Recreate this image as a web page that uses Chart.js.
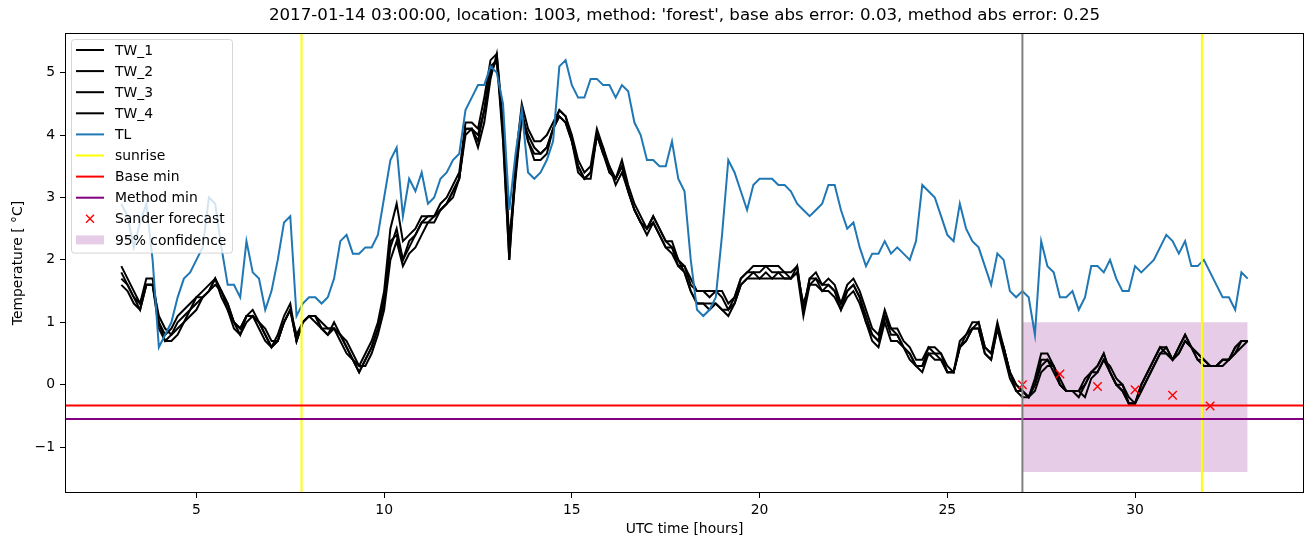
<!DOCTYPE html>
<html>
<head>
<meta charset="utf-8">
<script src="https://cdn.jsdelivr.net/npm/chart.js"></script>
<style>
  html, body { margin: 0; padding: 0; background: #fff; }
  canvas { display: block; }
</style>
</head>
<body>
<canvas id="chart" width="1313" height="547"></canvas>
<script>
// time axis: 10 minute samples from 03:00 to 33:00 UTC
var startHour = 3;
var stepHours = 1 / 6;

var tw1 = [
  1.9,1.7,1.5,1.3,1.7,1.7,1.0,0.8,0.9,1.1,
  1.2,1.3,1.4,1.5,1.6,1.7,1.5,1.3,1.0,0.8,
  1.1,1.2,1.0,0.8,0.6,0.8,1.1,1.3,0.7,1.0,
  1.1,1.1,0.9,0.8,1.0,0.8,0.6,0.4,0.3,0.5,
  0.7,1.0,1.5,2.5,2.9,2.3,2.4,2.5,2.7,2.7,
  2.7,2.9,3.0,3.2,3.4,4.2,4.2,4.1,4.6,5.2,
  5.3,4.0,2.0,3.6,4.5,4.1,3.9,3.9,4.0,4.2,
  4.4,4.3,4.0,3.6,3.4,3.5,4.1,3.8,3.5,3.3,
  3.6,3.2,2.9,2.7,2.5,2.7,2.5,2.3,2.3,2.0,
  1.9,1.7,1.5,1.5,1.5,1.5,1.4,1.2,1.4,1.7,
  1.8,1.9,1.9,1.9,1.9,1.9,1.8,1.8,1.9,1.2,
  1.7,1.8,1.6,1.7,1.6,1.3,1.6,1.7,1.5,1.2,
  0.9,0.8,1.2,0.9,0.9,0.7,0.6,0.4,0.4,0.6,
  0.6,0.5,0.3,0.2,0.7,0.8,1.0,1.0,0.6,0.5,
  1.0,0.6,0.2,0.0,-0.1,-0.2,0.1,0.5,0.5,0.3,
  0.0,-0.1,-0.1,-0.1,0.1,0.2,0.3,0.5,0.2,0.0,
  0.0,-0.3,-0.3,0.0,0.2,0.4,0.6,0.6,0.4,0.6,
  0.8,0.6,0.5,0.4,0.3,0.3,0.4,0.4,0.6,0.7,0.7
];
var tw2 = [
  1.8,1.6,1.4,1.2,1.6,1.6,0.9,0.7,0.8,1.0,
  1.1,1.2,1.4,1.4,1.5,1.7,1.4,1.2,0.9,0.8,
  1.0,1.1,0.9,0.7,0.6,0.7,1.0,1.2,0.7,1.0,
  1.1,1.0,0.9,0.8,0.9,0.7,0.5,0.4,0.2,0.4,
  0.6,0.9,1.3,2.3,2.4,2.0,2.2,2.4,2.6,2.6,
  2.7,2.8,2.9,3.1,3.3,4.1,4.1,3.9,4.4,5.0,
  5.2,3.9,2.0,3.4,4.4,3.9,3.7,3.7,3.8,4.1,
  4.3,4.2,3.9,3.5,3.3,3.4,4.0,3.7,3.4,3.3,
  3.5,3.1,2.8,2.6,2.4,2.6,2.4,2.2,2.1,1.9,
  1.8,1.5,1.3,1.3,1.2,1.3,1.2,1.1,1.3,1.6,
  1.7,1.8,1.7,1.8,1.7,1.8,1.7,1.7,1.8,1.1,
  1.6,1.7,1.5,1.6,1.5,1.2,1.5,1.6,1.4,1.0,
  0.8,0.7,1.1,0.8,0.8,0.6,0.5,0.3,0.3,0.5,
  0.5,0.4,0.2,0.2,0.6,0.8,0.9,0.9,0.5,0.4,
  0.9,0.5,0.1,-0.1,-0.2,-0.2,0.0,0.3,0.4,0.2,
  0.0,-0.1,-0.1,-0.1,0.0,0.2,0.2,0.4,0.2,0.0,
  -0.1,-0.3,-0.3,-0.1,0.1,0.3,0.5,0.6,0.4,0.5,
  0.7,0.6,0.4,0.3,0.3,0.3,0.4,0.4,0.5,0.7,0.7
];
var tw3 = [
  1.7,1.6,1.4,1.3,1.6,1.6,1.1,0.9,0.8,0.9,
  1.0,1.2,1.3,1.4,1.5,1.6,1.5,1.2,1.0,0.9,
  1.1,1.1,1.0,0.9,0.7,0.7,1.0,1.2,0.8,1.0,
  1.1,1.1,1.0,0.9,0.9,0.8,0.7,0.5,0.3,0.3,
  0.5,0.8,1.2,2.0,2.3,1.9,2.1,2.2,2.4,2.6,
  2.6,2.8,2.9,3.0,3.3,4.0,4.1,3.8,4.2,4.9,
  5.3,4.2,2.3,3.4,4.3,3.9,3.6,3.6,3.7,4.1,
  4.3,4.2,3.9,3.4,3.3,3.3,4.0,3.7,3.5,3.2,
  3.4,3.1,2.8,2.6,2.5,2.6,2.4,2.2,2.2,2.0,
  1.8,1.5,1.3,1.3,1.3,1.3,1.2,1.2,1.3,1.6,
  1.7,1.7,1.7,1.7,1.7,1.7,1.7,1.7,1.8,1.3,
  1.6,1.6,1.5,1.5,1.4,1.2,1.4,1.5,1.3,1.0,
  0.7,0.6,1.0,0.7,0.7,0.6,0.4,0.3,0.2,0.5,
  0.4,0.4,0.2,0.2,0.6,0.7,0.9,0.9,0.5,0.4,
  0.9,0.6,0.2,0.0,-0.1,-0.2,-0.1,0.2,0.3,0.3,
  0.1,-0.1,-0.1,-0.1,-0.2,0.1,0.2,0.4,0.3,0.1,
  0.0,-0.2,-0.3,-0.1,0.1,0.3,0.5,0.5,0.4,0.5,
  0.7,0.6,0.5,0.4,0.3,0.3,0.3,0.4,0.5,0.6,0.7
];
var tw4 = [
  1.6,1.5,1.3,1.2,1.6,1.6,1.0,0.7,0.7,0.8,
  1.0,1.1,1.2,1.4,1.5,1.7,1.5,1.3,1.0,0.9,
  1.1,1.1,1.0,0.8,0.6,0.7,1.0,1.2,0.7,1.0,
  1.1,1.1,0.9,0.9,0.9,0.8,0.6,0.4,0.2,0.4,
  0.6,0.9,1.4,2.2,2.5,2.0,2.3,2.4,2.6,2.7,
  2.7,2.8,2.9,3.1,3.3,4.1,4.1,4.0,4.4,5.1,
  5.2,4.1,2.2,3.3,4.3,4.0,3.8,3.7,3.8,4.1,
  4.4,4.3,3.9,3.5,3.3,3.4,4.0,3.8,3.4,3.3,
  3.5,3.1,2.8,2.6,2.5,2.7,2.5,2.3,2.2,1.9,
  1.9,1.6,1.5,1.5,1.4,1.5,1.5,1.3,1.4,1.7,
  1.8,1.8,1.8,1.9,1.8,1.8,1.8,1.7,1.9,1.2,
  1.7,1.7,1.6,1.6,1.5,1.3,1.5,1.6,1.4,1.1,
  0.8,0.7,1.1,0.9,0.8,0.6,0.5,0.3,0.3,0.6,
  0.5,0.5,0.2,0.2,0.6,0.7,0.9,1.0,0.6,0.5,
  0.9,0.6,0.2,-0.1,-0.1,-0.2,0.0,0.4,0.4,0.3,
  0.0,-0.1,-0.1,-0.2,0.0,0.2,0.3,0.5,0.2,0.0,
  -0.1,-0.3,-0.3,0.0,0.2,0.4,0.6,0.5,0.4,0.6,
  0.8,0.6,0.4,0.4,0.3,0.3,0.4,0.4,0.6,0.7,0.7
];
var tl = [
  2.9,2.7,2.2,2.6,2.9,2.0,0.6,0.8,1.0,1.4,
  1.7,1.8,2.0,2.2,3.0,2.9,2.2,1.6,1.6,1.4,
  2.3,1.8,1.7,1.2,1.5,2.0,2.6,2.7,1.1,1.3,
  1.4,1.4,1.3,1.4,1.7,2.3,2.4,2.1,2.1,2.2,
  2.2,2.4,3.0,3.6,3.8,2.7,3.3,3.1,3.4,2.9,
  3.0,3.3,3.4,3.6,3.7,4.4,4.6,4.8,4.8,5.1,
  5.0,4.5,2.8,3.7,4.4,3.4,3.3,3.4,3.6,3.9,
  5.1,5.2,4.8,4.6,4.6,4.9,4.9,4.8,4.8,4.6,
  4.8,4.7,4.2,4.0,3.6,3.6,3.5,3.5,3.9,3.3,
  3.1,2.0,1.2,1.1,1.2,1.4,2.4,3.6,3.4,3.1,
  2.8,3.2,3.3,3.3,3.3,3.2,3.2,3.1,2.9,2.8,
  2.7,2.8,2.9,3.2,3.2,2.8,2.5,2.6,2.2,1.9,
  2.1,2.1,2.3,2.1,2.2,2.1,2.0,2.3,3.2,3.1,
  3.0,2.7,2.4,2.3,2.9,2.5,2.3,2.2,1.9,1.6,
  2.1,2.0,1.5,1.4,1.5,1.4,0.8,2.3,1.9,1.8,
  1.4,1.4,1.5,1.2,1.4,1.9,1.9,1.8,2.0,1.7,
  1.5,1.5,1.9,1.8,1.9,2.0,2.2,2.4,2.3,2.1,
  2.3,1.9,1.9,2.0,1.8,1.6,1.4,1.4,1.2,1.8,1.7
];

var sunriseHours = [7.8, 31.78];
var forecastStartHour = 27;
var baseMin = -0.335;
var methodMin = -0.55;
var forecastHours = [27, 28, 29, 30, 31, 32];
var forecastValues = [0.0, 0.17, -0.03, -0.08, -0.17, -0.34];
var confidenceHours = [27, 33];
var confidenceLow = -1.4;
var confidenceHigh = 1.0;

var xRange = [1.5, 34.5];
var yRange = [-1.735, 5.635];
var xTicks = [5, 10, 15, 20, 25, 30];
var yTicks = [-1, 0, 1, 2, 3, 4, 5];

var font = 'DejaVu Sans';

function series(values) {
  return values.map(function (v, i) { return {x: startHour + i * stepHours, y: v}; });
}
function hline(v) {
  return [{x: xRange[0], y: v}, {x: xRange[1], y: v}];
}
function vlines(hours) {
  var pts = [];
  hours.forEach(function (h, i) {
    if (i) pts.push({x: h, y: null});
    pts.push({x: h, y: yRange[0]}, {x: h, y: yRange[1]});
  });
  return pts;
}
function lineSet(label, data, color, order) {
  return {label: label, data: data, borderColor: color, backgroundColor: color,
    borderWidth: 2, pointRadius: 0, fill: false, spanGaps: false, order: order, legendKind: 'line'};
}

// frame around the axes + matplotlib style legend drawn on top of the data
var framePlugin = {
  id: 'frameAndLegend',
  afterDatasetsDraw: function (chart) {
    var ctx = chart.ctx, a = chart.chartArea;
    ctx.save();
    ctx.strokeStyle = '#000';
    ctx.lineWidth = 1;
    ctx.strokeRect(a.left + 0.5, a.top + 0.5, a.right - a.left - 1, a.bottom - a.top - 1);

    var items = chart.data.datasets.filter(function (d) { return d.label; });
    var x0 = a.left + 6, y0 = a.top + 6, rowH = 21.1;
    var w = 161, h = 11 + (items.length - 1) * rowH + 12.7;
    ctx.beginPath();
    ctx.roundRect(x0 + 0.5, y0 + 0.5, w, h, 3);
    ctx.fillStyle = 'rgba(255,255,255,0.8)';
    ctx.fill();
    ctx.strokeStyle = 'rgba(204,204,204,0.8)';
    ctx.stroke();

    ctx.font = '13.9px "' + font + '"';
    ctx.textBaseline = 'middle';
    items.forEach(function (d, k) {
      var y = y0 + 11 + k * rowH;
      var sx = x0 + 5;
      if (d.legendKind === 'marker') {
        ctx.strokeStyle = d.borderColor;
        ctx.lineWidth = 1.4;
        ctx.beginPath();
        ctx.moveTo(sx + 10, y - 4); ctx.lineTo(sx + 18, y + 4);
        ctx.moveTo(sx + 10, y + 4); ctx.lineTo(sx + 18, y - 4);
        ctx.stroke();
      } else if (d.legendKind === 'patch') {
        ctx.fillStyle = d.backgroundColor;
        ctx.fillRect(sx, y - 4.5, 28, 9);
      } else {
        ctx.strokeStyle = d.borderColor;
        ctx.lineWidth = 2;
        ctx.beginPath();
        ctx.moveTo(sx, y); ctx.lineTo(sx + 28, y);
        ctx.stroke();
      }
      ctx.fillStyle = '#000';
      ctx.fillText(d.label, x0 + 44, y + 1);
    });
    ctx.restore();
  }
};

var ctxLine = document.getElementById('chart');
var myChart = new Chart(ctxLine, {
  type: 'line',
  data: {
    datasets: [
      lineSet('TW_1', series(tw1), '#000000', 20),
      lineSet('TW_2', series(tw2), '#000000', 19),
      lineSet('TW_3', series(tw3), '#000000', 18),
      lineSet('TW_4', series(tw4), '#000000', 17),
      lineSet('TL', series(tl), '#1f77b4', 16),
      lineSet('sunrise', vlines(sunriseHours), '#ffff00', 15),
      lineSet('Base min', hline(baseMin), '#ff0000', 14),
      lineSet('Method min', hline(methodMin), '#800080', 13),
      {
        label: 'Sander forecast',
        data: forecastHours.map(function (h, i) { return {x: h, y: forecastValues[i]}; }),
        showLine: false, pointStyle: 'crossRot', pointRadius: 6, pointBorderWidth: 1.4,
        borderColor: '#ff0000', backgroundColor: '#ff0000', order: 12, legendKind: 'marker'
      },
      {
        label: '95% confidence',
        data: confidenceHours.map(function (h) { return {x: h, y: confidenceHigh}; }),
        fill: {value: confidenceLow}, borderWidth: 0, pointRadius: 0,
        borderColor: 'rgba(0,0,0,0)', backgroundColor: 'rgba(128,0,128,0.2)', order: 100, legendKind: 'patch'
      },
      lineSet('', vlines([forecastStartHour]), '#808080', 11)
    ]
  },
  options: {
    responsive: false,
    animation: false,
    events: [],
    layout: {padding: {left: 0, right: 9, top: 0, bottom: 0}},
    elements: {line: {tension: 0}},
    plugins: {
      legend: {display: false},
      tooltip: {enabled: false},
      title: {
        display: true,
        fullSize: false,
        text: "2017-01-14 03:00:00, location: 1003, method: 'forest', base abs error: 0.03, method abs error: 0.25",
        color: '#000',
        font: {family: font, size: 16.67, weight: 'normal', lineHeight: 1.2},
        padding: {top: 6, bottom: 7}
      }
    },
    scales: {
      x: {
        type: 'linear',
        min: xRange[0],
        max: xRange[1],
        afterBuildTicks: function (s) { s.ticks = xTicks.map(function (v) { return {value: v}; }); },
        afterFit: function (s) { s.height = 54; },
        border: {display: false},
        grid: {drawOnChartArea: false, drawTicks: true, tickLength: 5, tickColor: '#000', tickWidth: 1},
        ticks: {color: '#000', font: {family: font, size: 13.9}, padding: 4, maxRotation: 0, autoSkip: false,
          callback: function (v) { return String(v); }},
        title: {display: true, text: 'UTC time [hours]', color: '#000',
          font: {family: font, size: 13.9}, padding: {top: 0, bottom: 9}}
      },
      y: {
        type: 'linear',
        min: yRange[0],
        max: yRange[1],
        afterBuildTicks: function (s) { s.ticks = yTicks.map(function (v) { return {value: v}; }); },
        afterFit: function (s) { s.width = 65; },
        border: {display: false},
        grid: {drawOnChartArea: false, drawTicks: true, tickLength: 5, tickColor: '#000', tickWidth: 1},
        ticks: {color: '#000', font: {family: font, size: 13.9}, padding: 5,
          callback: function (v) { return String(v).replace('-', '\u2212'); }},
        title: {display: true, text: 'Temperature [ \u00b0C]', color: '#000',
          font: {family: font, size: 13.9}, padding: {top: 10, bottom: 0}}
      }
    }
  },
  plugins: [framePlugin]
});
</script>
</body>
</html>
